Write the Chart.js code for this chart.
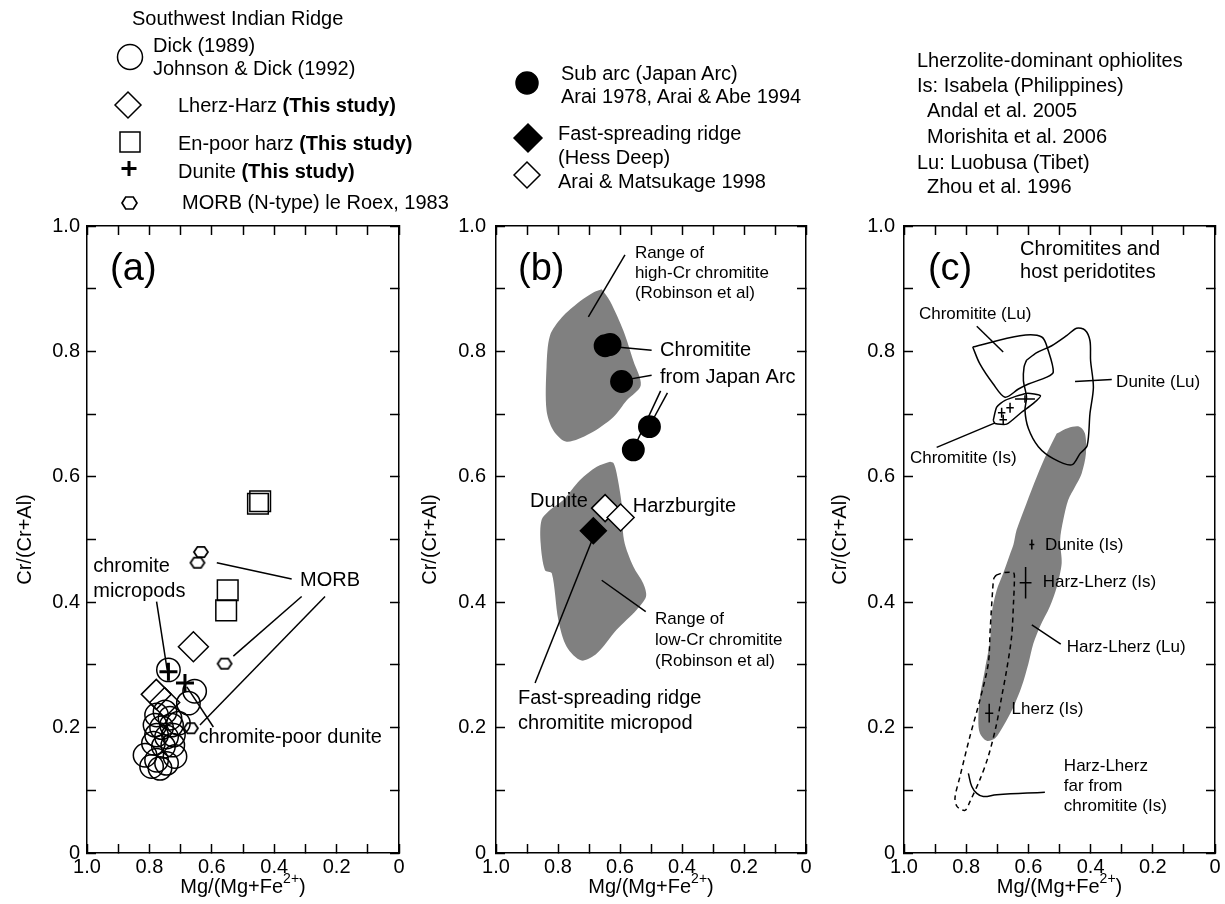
<!DOCTYPE html>
<html lang="en">
<head>
    <meta charset="UTF-8">
    <title>Cr/(Cr+Al) vs Mg/(Mg+Fe2+)</title>
    <script src="https://cdn.jsdelivr.net/npm/chart.js"></script>
    <style>
        body { margin: 0; background: #fff; }
        #page { position: relative; width: 1225px; height: 904px; overflow: hidden; font-family: 'Liberation Sans', Arial, sans-serif; }
        canvas { position: absolute; top: 200px; }
        #keys { position: absolute; left: 0; top: 0; pointer-events: none; }
    </style>
</head>
<body>
<div id="page">
    <canvas id="panelA" width="410" height="704" style="left:0px"></canvas>
    <canvas id="panelB" width="415" height="704" style="left:410px"></canvas>
    <canvas id="panelC" width="410" height="704" style="left:815px"></canvas>

    <svg id="keys" width="1225" height="230">
        <g font-family="Liberation Sans, Arial, sans-serif" font-size="20" fill="#000" dominant-baseline="central">
            <text x="132" y="18">Southwest Indian Ridge</text>
            <text x="153" y="45">Dick (1989)</text>
            <text x="153" y="68">Johnson &amp; Dick (1992)</text>
            <text x="178" y="105">Lherz-Harz <tspan font-weight="bold">(This study)</tspan></text>
            <text x="178" y="143">En-poor harz <tspan font-weight="bold">(This study)</tspan></text>
            <text x="178" y="171">Dunite <tspan font-weight="bold">(This study)</tspan></text>
            <text x="182" y="202">MORB (N-type) le Roex, 1983</text>

            <text x="561" y="73">Sub arc (Japan Arc)</text>
            <text x="561" y="96">Arai 1978, Arai &amp; Abe 1994</text>
            <text x="558" y="133">Fast-spreading ridge</text>
            <text x="558" y="157">(Hess Deep)</text>
            <text x="558" y="181">Arai &amp; Matsukage 1998</text>

            <text x="917" y="60">Lherzolite-dominant ophiolites</text>
            <text x="917" y="85">Is: Isabela (Philippines)</text>
            <text x="927" y="110">Andal et al. 2005</text>
            <text x="927" y="136">Morishita et al. 2006</text>
            <text x="917" y="162">Lu: Luobusa (Tibet)</text>
            <text x="927" y="186">Zhou et al. 1996</text>
        </g>
        <g fill="none" stroke="#000" stroke-width="1.5">
            <circle cx="130" cy="57" r="12.5"/>
            <path d="M115 105 L128 92 L141 105 L128 118 Z"/>
            <rect x="120" y="132" width="20" height="20"/>
            <path d="M129 161 V176 M121.5 168.5 H136.5" stroke-width="3"/>
            <path d="M122 203 L125.7 197 L133.3 197 L137 203 L133.3 209 L125.7 209 Z" stroke-width="1.7"/>
            <circle cx="527" cy="83" r="11" fill="#000"/>
            <path d="M514 138 L528 124 L542 138 L528 152 Z" fill="#000"/>
            <path d="M514 175 L527 162 L540 175 L527 188 Z" fill="#fff"/>
        </g>
    </svg>
</div>

<script>
// eixos
const xTickLabels = ['0', '', '0.2', '', '0.4', '', '0.6', '', '0.8', '', '1.0'];
const yTickLabels = ['0', '', '0.2', '', '0.4', '', '0.6', '', '0.8', '', '1.0'];
const xTitleParts = ['Mg/(Mg+Fe', '2+', ')'];
const yTitle = 'Cr/(Cr+Al)';

// (a) pares [Mg#, Cr#]
const swirCircles = [
    [0.739, 0.292], [0.655, 0.258], [0.675, 0.239], [0.777, 0.220], [0.750, 0.225],
    [0.734, 0.215], [0.782, 0.204], [0.761, 0.200], [0.729, 0.204], [0.707, 0.207],
    [0.777, 0.188], [0.745, 0.185], [0.723, 0.188], [0.787, 0.175], [0.755, 0.170],
    [0.725, 0.172], [0.814, 0.156], [0.777, 0.148], [0.745, 0.143], [0.718, 0.154],
    [0.793, 0.138], [0.766, 0.135]
];
const lherzHarz = [[0.659, 0.329], [0.778, 0.253], [0.751, 0.240]];
const enPoorHarz = [[0.445, 0.561], [0.452, 0.557], [0.549, 0.419], [0.554, 0.387]];
const duniteA = [[0.739, 0.289], [0.686, 0.271]];
const morb = [[0.635, 0.480], [0.646, 0.463], [0.559, 0.302], [0.667, 0.199]];

// (b)
const japanArc = [[0.648, 0.809], [0.632, 0.811], [0.595, 0.752], [0.505, 0.680], [0.557, 0.643]];
const hessDeepOpen = [[0.648, 0.550], [0.598, 0.535]];
const hessDeepFilled = [[0.686, 0.514]];
const highCrRange = [
    [0.659, 0.899], [0.632, 0.880], [0.589, 0.833], [0.557, 0.785], [0.533, 0.746],
    [0.578, 0.722], [0.622, 0.695], [0.697, 0.669], [0.772, 0.656], [0.815, 0.674],
    [0.837, 0.706], [0.837, 0.775], [0.826, 0.825], [0.788, 0.854], [0.729, 0.880],
    [0.686, 0.894]
];
const lowCrRange = [
    [0.632, 0.624], [0.675, 0.616], [0.729, 0.595], [0.783, 0.563], [0.826, 0.547],
    [0.853, 0.531], [0.856, 0.494], [0.842, 0.451], [0.820, 0.446], [0.799, 0.372],
    [0.772, 0.329], [0.724, 0.307], [0.675, 0.318], [0.611, 0.356], [0.546, 0.388],
    [0.516, 0.409], [0.525, 0.430], [0.557, 0.457], [0.587, 0.499], [0.595, 0.558],
    [0.611, 0.606], [0.621, 0.622]
];

// (c)
const chromititeLu = [
    [0.779, 0.807], [0.627, 0.825], [0.557, 0.823], [0.536, 0.801], [0.520, 0.767],
    [0.541, 0.759], [0.600, 0.748], [0.632, 0.740], [0.675, 0.727], [0.713, 0.748],
    [0.756, 0.780]
];
const duniteLu = [
    [0.606, 0.786], [0.573, 0.798], [0.525, 0.809], [0.477, 0.825], [0.445, 0.837],
    [0.418, 0.834], [0.402, 0.817], [0.400, 0.785], [0.391, 0.743], [0.402, 0.701],
    [0.411, 0.650], [0.434, 0.637], [0.461, 0.619], [0.520, 0.629], [0.568, 0.648],
    [0.600, 0.677], [0.611, 0.706], [0.606, 0.727], [0.616, 0.753], [0.614, 0.775]
];
const chromititeIs = [
    [0.713, 0.690], [0.702, 0.711], [0.675, 0.722], [0.606, 0.733], [0.561, 0.729],
    [0.584, 0.717], [0.622, 0.703], [0.670, 0.684], [0.707, 0.685]
];
const harzLherzLu = [
    [0.509, 0.669], [0.472, 0.678], [0.436, 0.680], [0.418, 0.669], [0.415, 0.637],
    [0.429, 0.605], [0.450, 0.584], [0.472, 0.563], [0.488, 0.531], [0.498, 0.499],
    [0.493, 0.462], [0.509, 0.424], [0.531, 0.393], [0.563, 0.361], [0.584, 0.334],
    [0.600, 0.302], [0.622, 0.265], [0.648, 0.233], [0.681, 0.202], [0.707, 0.183],
    [0.734, 0.179], [0.756, 0.191], [0.761, 0.212], [0.756, 0.249], [0.740, 0.292],
    [0.723, 0.340], [0.718, 0.382], [0.702, 0.419], [0.681, 0.446], [0.659, 0.477],
    [0.648, 0.492], [0.638, 0.515], [0.606, 0.558], [0.573, 0.600], [0.541, 0.637]
];
const harzLherzFarIs = [
    [0.704, 0.443], [0.681, 0.447], [0.648, 0.447], [0.645, 0.438], [0.648, 0.398],
    [0.654, 0.345], [0.670, 0.292], [0.686, 0.249], [0.704, 0.202], [0.729, 0.154],
    [0.756, 0.117], [0.788, 0.082], [0.804, 0.068], [0.829, 0.074], [0.836, 0.088],
    [0.820, 0.122], [0.788, 0.186], [0.756, 0.244], [0.729, 0.302], [0.723, 0.355],
    [0.715, 0.419], [0.711, 0.438]
];
const farCurve = [[0.793, 0.127], [0.782, 0.106], [0.766, 0.095], [0.745, 0.090], [0.702, 0.093], [0.547, 0.097]];
// [x, y, erro x, erro y]
const isabelaMeans = [
    [0.686, 0.702, 0.012, 0.008], [0.659, 0.710, 0.012, 0.008], [0.681, 0.691, 0.012, 0.008],
    [0.611, 0.724, 0.032, 0.006],
    [0.589, 0.492, 0.008, 0.008],
    [0.609, 0.431, 0.019, 0.025],
    [0.726, 0.223, 0.013, 0.015]
];

const FONT = "'Liberation Sans', Arial, sans-serif";
Chart.defaults.font.family = FONT;
Chart.defaults.color = '#000';

const pts = list => list.map(([x, y]) => ({ x, y }));
const ring = list => pts(list.concat([list[0]]));

function hexagon(r) {
    const c = document.createElement('canvas');
    c.width = c.height = Math.ceil(r * 2 + 4);
    const g = c.getContext('2d');
    const m = c.width / 2;
    g.beginPath();
    for (let k = 0; k < 6; k++) {
        const a = Math.PI / 3 * k;
        const px = m + r * Math.cos(a), py = m + r * 0.86 * Math.sin(a);
        k ? g.lineTo(px, py) : g.moveTo(px, py);
    }
    g.closePath();
    g.lineWidth = 1.8;
    g.strokeStyle = '#000';
    g.stroke();
    return c;
}

// preenchimentos, linhas de chamada, barras de erro e textos
const extras = {
    id: 'extras',
    beforeDatasetsDraw(chart) {
        const ctx = chart.ctx;
        chart.data.datasets.forEach((ds, i) => {
            if (!ds.areaColor) return;
            const meta = chart.getDatasetMeta(i);
            ctx.save();
            ctx.beginPath();
            if (meta.dataset && typeof meta.dataset.path === 'function') {
                meta.dataset.path(ctx);
            } else {
                meta.data.forEach((p, k) => k ? ctx.lineTo(p.x, p.y) : ctx.moveTo(p.x, p.y));
            }
            ctx.closePath();
            ctx.fillStyle = ds.areaColor;
            ctx.fill();
            ctx.restore();
        });
    },
    afterDatasetsDraw(chart, args, opts) {
        const ctx = chart.ctx;
        const X = v => chart.scales.x.getPixelForValue(v);
        const Y = v => chart.scales.y.getPixelForValue(v);
        ctx.save();
        ctx.strokeStyle = '#000';
        ctx.lineWidth = 1.5;
        (opts.leaders || []).forEach(([x1, y1, x2, y2]) => {
            ctx.beginPath();
            ctx.moveTo(X(x1), Y(y1));
            ctx.lineTo(X(x2), Y(y2));
            ctx.stroke();
        });
        (opts.errorBars || []).forEach(([x, y, dx, dy]) => {
            ctx.beginPath();
            ctx.moveTo(X(x - dx), Y(y));
            ctx.lineTo(X(x + dx), Y(y));
            ctx.moveTo(X(x), Y(y - dy));
            ctx.lineTo(X(x), Y(y + dy));
            ctx.stroke();
        });
        ctx.fillStyle = '#000';
        ctx.textBaseline = 'middle';
        ctx.textAlign = 'left';
        (opts.notes || []).forEach(n => {
            ctx.font = (n.size || 20) + 'px ' + FONT;
            ctx.fillText(n.t, X(n.x), Y(n.y));
        });
        ctx.restore();
    },
    afterDraw(chart) {
        // titulo do eixo x com sobrescrito
        const ctx = chart.ctx, s = chart.scales.x;
        const big = '20px ' + FONT, small = '14px ' + FONT;
        ctx.save();
        ctx.font = big;
        const w0 = ctx.measureText(xTitleParts[0]).width, w2 = ctx.measureText(xTitleParts[2]).width;
        ctx.font = small;
        const w1 = ctx.measureText(xTitleParts[1]).width;
        let x = (s.left + s.right) / 2 - (w0 + w1 + w2) / 2;
        const y = chart.height - 17;
        ctx.fillStyle = '#000';
        ctx.textBaseline = 'middle';
        ctx.textAlign = 'left';
        ctx.font = big;
        ctx.fillText(xTitleParts[0], x, y);
        x += w0;
        ctx.font = small;
        ctx.fillText(xTitleParts[1], x, y - 8);
        x += w1;
        ctx.font = big;
        ctx.fillText(xTitleParts[2], x, y);
        ctx.restore();
    }
};

function fixed(w, h) {
    return s => {
        if (w !== null) s.width = w;
        if (h !== null) s.height = h;
        s.paddingLeft = s.paddingRight = s.paddingTop = s.paddingBottom = 0;
    };
}

function axes(p) {
    const grid = { display: true, drawOnChartArea: false, drawTicks: true, tickLength: -9, tickWidth: 1.5, tickColor: '#000' };
    const border = { display: true, color: '#000', width: 1.5 };
    const lin = { type: 'linear', min: 0, max: 1, grid, border };
    return {
        x: { ...lin, position: 'bottom', reverse: true,
            afterFit: fixed(null, 51),
            ticks: { stepSize: 0.1, autoSkip: false, maxRotation: 0, padding: 11, font: { size: 20 },
                callback: v => xTickLabels[Math.round(v * 10)] } },
        x2: { ...lin, position: 'top', reverse: true,
            afterFit: fixed(null, 0),
            ticks: { stepSize: 0.1, autoSkip: false, display: false } },
        y: { ...lin, position: 'left',
            afterFit: fixed(p.yw, null),
            ticks: { stepSize: 0.1, autoSkip: false, padding: p.ypad, font: { size: 20 },
                callback: v => yTickLabels[Math.round(v * 10)] },
            title: { display: true, text: yTitle, font: { size: 20 }, padding: p.ytp } },
        y2: { ...lin, position: 'right',
            afterFit: fixed(0, null),
            ticks: { stepSize: 0.1, autoSkip: false, display: false } }
    };
}

function panel(id, datasets, p, extra) {
    new Chart(document.getElementById(id), {
        type: 'scatter',
        data: { datasets },
        options: {
            responsive: false,
            animation: false,
            events: [],
            layout: { autoPadding: false, padding: { left: 0, right: p.right, top: 26, bottom: 0 } },
            scales: axes(p),
            plugins: { legend: { display: false }, tooltip: { enabled: false }, extras: extra }
        },
        plugins: [extras]
    });
}

const outline = (list, more) => Object.assign({ data: ring(list), showLine: true, borderColor: '#000', borderWidth: 1.5,
    pointRadius: 0, tension: 0.3, fill: false }, more || {});
const marks = (list, style, r, more) => Object.assign({ data: pts(list), pointStyle: style, pointRadius: r,
    pointBorderColor: '#000', pointBorderWidth: 1.5, pointBackgroundColor: 'rgba(0,0,0,0)' }, more || {});

// (a)
panel('panelA', [
    marks(duniteA, 'cross', 9, { pointBorderWidth: 3, order: 1 }),
    marks(morb, hexagon(7), 7, { order: 2 }),
    marks(enPoorHarz, 'rect', 14.6, { order: 3 }),
    marks(lherzHarz, 'rectRot', 15, { order: 4 }),
    marks(swirCircles, 'circle', 11.7, { order: 5 })
], { yw: 87, ypad: 16, ytp: 13, right: 11 }, {
    notes: [
        { t: '(a)', x: 0.926, y: 0.930, size: 38 },
        { t: 'chromite', x: 0.980, y: 0.457 },
        { t: 'micropods', x: 0.980, y: 0.417 },
        { t: 'MORB', x: 0.317, y: 0.435 },
        { t: 'chromite-poor dunite', x: 0.643, y: 0.185 }
    ],
    leaders: [
        [0.777, 0.401, 0.743, 0.292],
        [0.584, 0.463, 0.344, 0.437],
        [0.531, 0.314, 0.312, 0.409],
        [0.638, 0.204, 0.237, 0.409],
        [0.680, 0.265, 0.595, 0.201]
    ]
});

// (b)
panel('panelB', [
    marks(hessDeepFilled, 'rectRot', 13, { pointBackgroundColor: '#000', order: 1 }),
    marks(hessDeepOpen, 'rectRot', 13.5, { pointBackgroundColor: '#fff', order: 2 }),
    marks(japanArc, 'circle', 10.7, { pointBackgroundColor: '#000', order: 3 }),
    outline(highCrRange, { borderWidth: 0, areaColor: '#808080', order: 9 }),
    outline(lowCrRange, { borderWidth: 0, areaColor: '#808080', order: 9 })
], { yw: 86, ypad: 19, ytp: 8, right: 19 }, {
    notes: [
        { t: '(b)', x: 0.929, y: 0.930, size: 38 },
        { t: 'Range of', x: 0.552, y: 0.957, size: 17 },
        { t: 'high-Cr chromitite', x: 0.552, y: 0.924, size: 17 },
        { t: '(Robinson et al)', x: 0.552, y: 0.892, size: 17 },
        { t: 'Chromitite', x: 0.471, y: 0.802 },
        { t: 'from Japan Arc', x: 0.471, y: 0.758 },
        { t: 'Dunite', x: 0.890, y: 0.560 },
        { t: 'Harzburgite', x: 0.559, y: 0.552 },
        { t: 'Fast-spreading ridge', x: 0.929, y: 0.247 },
        { t: 'chromitite micropod', x: 0.929, y: 0.207 },
        { t: 'Range of', x: 0.487, y: 0.373, size: 17 },
        { t: 'low-Cr chromitite', x: 0.487, y: 0.340, size: 17 },
        { t: '(Robinson et al)', x: 0.487, y: 0.306, size: 17 }
    ],
    leaders: [
        [0.702, 0.855, 0.584, 0.954],
        [0.611, 0.807, 0.498, 0.802],
        [0.578, 0.755, 0.498, 0.762],
        [0.557, 0.644, 0.469, 0.737],
        [0.505, 0.681, 0.447, 0.734],
        [0.686, 0.504, 0.874, 0.271],
        [0.659, 0.435, 0.517, 0.385]
    ]
});

// (c)
panel('panelC', [
    outline(chromititeLu, { order: 1 }),
    outline(duniteLu, { order: 1 }),
    outline(chromititeIs, { order: 1, tension: 0.2 }),
    outline(harzLherzFarIs, { order: 2, borderDash: [5, 4] }),
    { data: pts(farCurve), showLine: true, borderColor: '#000', borderWidth: 1.5, pointRadius: 0, tension: 0.4, order: 1 },
    outline(harzLherzLu, { borderWidth: 0, areaColor: '#808080', order: 9 })
], { yw: 89, ypad: 18, ytp: 13, right: 10 }, {
    notes: [
        { t: '(c)', x: 0.923, y: 0.931, size: 38 },
        { t: 'Chromitites and', x: 0.627, y: 0.963 },
        { t: 'host peridotites', x: 0.627, y: 0.926 },
        { t: 'Chromitite (Lu)', x: 0.952, y: 0.859, size: 17 },
        { t: 'Dunite (Lu)', x: 0.318, y: 0.750, size: 17 },
        { t: 'Chromitite (Is)', x: 0.981, y: 0.629, size: 17 },
        { t: 'Dunite (Is)', x: 0.547, y: 0.490, size: 17 },
        { t: 'Harz-Lherz (Is)', x: 0.554, y: 0.431, size: 17 },
        { t: 'Harz-Lherz (Lu)', x: 0.477, y: 0.328, size: 17 },
        { t: 'Lherz (Is)', x: 0.654, y: 0.229, size: 17 },
        { t: 'Harz-Lherz', x: 0.486, y: 0.138, size: 17 },
        { t: 'far from', x: 0.486, y: 0.107, size: 17 },
        { t: 'chromitite (Is)', x: 0.486, y: 0.074, size: 17 }
    ],
    leaders: [
        [0.766, 0.840, 0.681, 0.799],
        [0.450, 0.752, 0.332, 0.755],
        [0.895, 0.647, 0.707, 0.686],
        [0.589, 0.364, 0.496, 0.333]
    ],
    errorBars: isabelaMeans
});
</script>
</body>
</html>
